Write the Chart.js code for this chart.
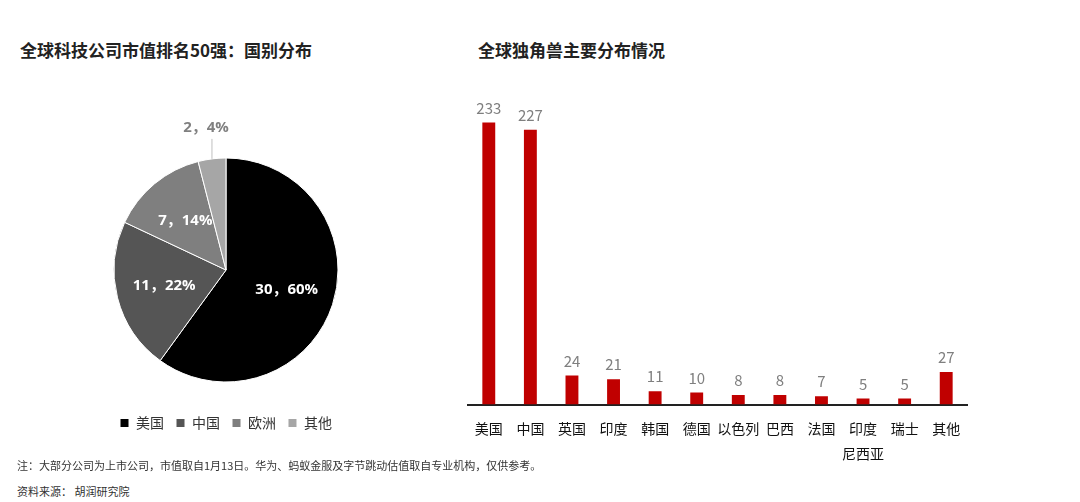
<!DOCTYPE html>
<html>
<head>
<meta charset="utf-8">
<script src="https://cdn.jsdelivr.net/npm/chart.js@4.4.1/dist/chart.umd.min.js"></script>
<style>
  html, body { margin: 0; padding: 0; background: #fff; }
  body { width: 1080px; height: 502px; position: relative; overflow: hidden;
         font-family: "Noto Sans CJK SC", "Noto Sans", sans-serif; }
  .title { position: absolute; font-size: 17px; font-weight: bold; color: #222; line-height: 20px; }
  .note { position: absolute; left: 17px; font-size: 11px; color: #333; line-height: 14px; }
  #pieBox { position: absolute; left: 0; top: 100px; width: 452px; height: 340px; }
  #barBox { position: absolute; left: 460px; top: 60px; width: 620px; height: 417px; }
</style>
</head>
<body>
<div class="title" style="left:20px; top:40px;">全球科技公司市值排名50强：国别分布</div>
<div class="title" style="left:478px; top:40px;">全球独角兽主要分布情况</div>
<div id="pieBox"><canvas id="pieChart"></canvas></div>
<div id="barBox"><canvas id="barChart"></canvas></div>
<div class="note" style="top:458px;">注：大部分公司为上市公司，市值取自1月13日。华为、蚂蚁金服及字节跳动估值取自专业机构，仅供参考。</div>
<div class="note" style="top:484px;">资料来源：&nbsp;胡润研究院</div>

<script>
// Data
const pieLabels = ['美国', '中国', '欧洲', '其他'];
const pieCounts = [30, 11, 7, 2];
const pieShares = [60, 22, 14, 4];

const barLabels = ['美国', '中国', '英国', '印度', '韩国', '德国', '以色列', '巴西', '法国', ['印度', '尼西亚'], '瑞士', '其他'];
const barValues = [233, 227, 24, 21, 11, 10, 8, 8, 7, 5, 5, 27];

const FONT = '"Noto Sans CJK SC", "Noto Sans", sans-serif';
const NUM_FONT = '"Open Sans", "Noto Sans CJK SC", sans-serif';
Chart.defaults.font.family = FONT;
Chart.defaults.animation = false;

// Pie slice labels
const pieLabelPlugin = {
  id: 'pieLabels',
  afterDraw(chart) {
    const ctx = chart.ctx;
    const arcs = chart.getDatasetMeta(0).data;
    ctx.save();
    ctx.font = 'bold 15px ' + NUM_FONT;
    ctx.textAlign = 'center';
    ctx.textBaseline = 'middle';
    arcs.forEach((arc, i) => {
      const text = pieCounts[i] + '，' + pieShares[i] + '%';
      const mid = (arc.startAngle + arc.endAngle) / 2;
      if (pieShares[i] < 8) {
        const x0 = arc.x + Math.cos(mid) * arc.outerRadius;
        const y0 = arc.y + Math.sin(mid) * arc.outerRadius;
        ctx.strokeStyle = '#bfbfbf';
        ctx.lineWidth = 1;
        ctx.beginPath();
        ctx.moveTo(x0, y0);
        ctx.lineTo(x0, y0 - 20);
        ctx.stroke();
        ctx.fillStyle = '#808080';
        ctx.fillText(text, x0 - 6, y0 - 31);
      } else {
        const d = arc.outerRadius * 0.57;
        ctx.fillStyle = '#ffffff';
        ctx.fillText(text, arc.x + Math.cos(mid) * d, arc.y + Math.sin(mid) * d);
      }
    });
    ctx.restore();
  }
};

new Chart(document.getElementById('pieChart').getContext('2d'), {
  type: 'pie',
  data: {
    labels: pieLabels,
    datasets: [{
      data: pieCounts,
      backgroundColor: ['#000000', '#555555', '#7f7f7f', '#a6a6a6'],
      borderColor: '#ffffff',
      borderWidth: 1,
      radius: 112
    }]
  },
  options: {
    responsive: true,
    maintainAspectRatio: false,
    layout: { padding: { top: 36 } },
    plugins: {
      legend: {
        position: 'bottom',
        labels: {
          boxWidth: 9,
          boxHeight: 9,
          padding: 12,
          color: '#333',
          font: { size: 14 }
        }
      },
      tooltip: { enabled: false }
    }
  },
  plugins: [pieLabelPlugin]
});

// Bar value labels
const barLabelPlugin = {
  id: 'barLabels',
  afterDatasetsDraw(chart) {
    const ctx = chart.ctx;
    ctx.save();
    ctx.font = '15px ' + FONT;
    ctx.fillStyle = '#7f7f7f';
    ctx.textAlign = 'center';
    ctx.textBaseline = 'bottom';
    chart.getDatasetMeta(0).data.forEach((bar, i) => {
      ctx.fillText(barValues[i], bar.x, bar.y - 7);
    });
    ctx.restore();
  }
};

new Chart(document.getElementById('barChart').getContext('2d'), {
  type: 'bar',
  data: {
    labels: barLabels,
    datasets: [{
      data: barValues,
      backgroundColor: '#c00000',
      barPercentage: 0.62,
      categoryPercentage: 0.5
    }]
  },
  options: {
    responsive: true,
    maintainAspectRatio: false,
    layout: { padding: { left: 8, right: 113, top: 42, bottom: 0 } },
    plugins: {
      legend: { display: false },
      tooltip: { enabled: false }
    },
    scales: {
      x: {
        grid: { display: false, drawTicks: false },
        border: { color: '#222', width: 2 },
        ticks: {
          color: '#111',
          font: { size: 14, lineHeight: 1.8 },
          padding: 11,
          maxRotation: 0,
          autoSkip: false
        }
      },
      y: {
        display: false,
        min: 0,
        max: 250
      }
    }
  },
  plugins: [barLabelPlugin]
});
</script>
</body>
</html>
